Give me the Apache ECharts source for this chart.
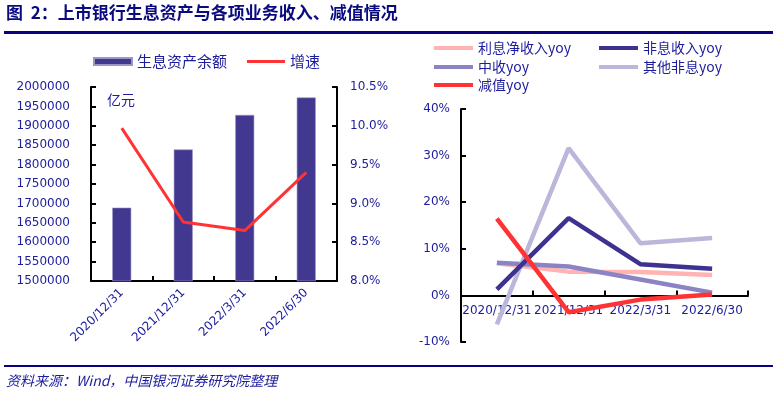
<!DOCTYPE html>
<html><head><meta charset="utf-8">
<script src="https://cdn.jsdelivr.net/npm/echarts@6/dist/echarts.min.js"></script>
<style>html,body{margin:0;padding:0;background:#fff}#c{width:773px;height:396px}</style>
</head><body><div id="c"></div>
<script>
const categories = ['2020/12/31', '2021/12/31', '2022/3/31', '2022/6/30'];
const assetBalance = [1689000, 1839000, 1928000, 1973000];
const assetGrowth = [9.97, 8.76, 8.65, 9.40];
const netInterestYoy = [6.9, 5.1, 5.0, 4.4];
const nonInterestYoy = [1.3, 16.6, 6.7, 5.7];
const feeYoy = [7.0, 6.2, 3.4, 0.6];
const otherNonInterestYoy = [-6.2, 31.6, 11.2, 12.3];
const impairmentYoy = [16.5, -3.6, -0.9, 0.2];
const leftTicks = { min: 1500000, max: 2000000, interval: 50000 };
const rightTicks = { min: 8.0, max: 10.5, interval: 0.5 };
const yoyTicks = { min: -10, max: 40, interval: 10 };

const navy = '#1c1c9c';
const txtFont = '"Noto Sans CJK SC", sans-serif';
const numFont = '"DejaVu Sans", sans-serif';
const axisLine = { show: true, lineStyle: { color: '#000', width: 2 } };
const axisTick = { show: true, inside: true, length: 5, lineStyle: { color: '#000', width: 2 } };

const chart = echarts.init(document.getElementById('c'), null, { renderer: 'canvas' });

function lg(name, left, top, w, h, fs) {
  return {
    data: [{ name: name, icon: 'rect' }], left: left, top: top,
    itemWidth: w, itemHeight: h, itemGap: 0, padding: 0,
    textStyle: { color: navy, fontSize: fs || 14, fontFamily: txtFont },
    selectedMode: false
  };
}

const grid2Height = 233;
const zeroOffset = -grid2Height * (0 - yoyTicks.min) / (yoyTicks.max - yoyTicks.min);

const option = {
  animation: false,
  backgroundColor: '#fff',
  legend: [
    lg('生息资产余额', 93, 54, 38, 7, 15),
    lg('增速', 247, 54, 38, 3, 15),
    lg('利息净收入yoy', 434, 41, 39, 4),
    lg('非息收入yoy', 599, 41, 39, 4),
    lg('中收yoy', 434, 60, 39, 4),
    lg('其他非息yoy', 599, 60, 39, 4),
    lg('减值yoy', 434, 78, 39, 4)
  ],
  grid: [
    { left: 91, top: 87, width: 246, height: 194 },
    { left: 461, top: 109, width: 287, height: grid2Height }
  ],
  xAxis: [
    {
      type: 'category', gridIndex: 0, data: categories,
      axisLine: axisLine, axisTick: axisTick,
      axisLabel: { rotate: 45, color: navy, fontSize: 12, fontFamily: numFont, margin: 10, interval: 0 }
    },
    {
      type: 'category', gridIndex: 1, data: categories, offset: zeroOffset,
      axisLine: Object.assign({ onZero: false }, axisLine), axisTick: axisTick,
      axisLabel: { color: navy, fontSize: 12, fontFamily: numFont, margin: 9, interval: 0, hideOverlap: false }
    }
  ],
  yAxis: [
    {
      type: 'value', gridIndex: 0, min: leftTicks.min, max: leftTicks.max, interval: leftTicks.interval,
      axisLine: axisLine, axisTick: axisTick, splitLine: { show: false },
      axisLabel: { color: navy, fontSize: 12, fontFamily: numFont, margin: 21, formatter: v => String(v) }
    },
    {
      type: 'value', gridIndex: 0, position: 'right', min: rightTicks.min, max: rightTicks.max, interval: rightTicks.interval,
      axisLine: axisLine, axisTick: axisTick, splitLine: { show: false },
      axisLabel: { color: navy, fontSize: 12, fontFamily: numFont, margin: 13, formatter: v => v.toFixed(1) + '%' }
    },
    {
      type: 'value', gridIndex: 1, min: yoyTicks.min, max: yoyTicks.max, interval: yoyTicks.interval,
      axisLine: axisLine, axisTick: axisTick, splitLine: { show: false },
      axisLabel: { color: navy, fontSize: 12, fontFamily: numFont, margin: 11, formatter: '{value}%' }
    }
  ],
  series: [
    { name: '生息资产余额', type: 'bar', xAxisIndex: 0, yAxisIndex: 0, data: assetBalance, barWidth: 19,
      itemStyle: { color: '#43388f', borderColor: '#9b95c8', borderWidth: 0.6 } },
    { name: '增速', type: 'line', xAxisIndex: 0, yAxisIndex: 1, data: assetGrowth, symbol: 'none',
      lineStyle: { color: '#ff3333', width: 3 }, itemStyle: { color: '#ff3333' } },
    { name: '利息净收入yoy', type: 'line', xAxisIndex: 1, yAxisIndex: 2, data: netInterestYoy, symbol: 'none',
      lineStyle: { color: '#ffb3b3', width: 4.5 }, itemStyle: { color: '#ffb3b3' } },
    { name: '中收yoy', type: 'line', xAxisIndex: 1, yAxisIndex: 2, data: feeYoy, symbol: 'none',
      lineStyle: { color: '#8a84c4', width: 4.5 }, itemStyle: { color: '#8a84c4' } },
    { name: '其他非息yoy', type: 'line', xAxisIndex: 1, yAxisIndex: 2, data: otherNonInterestYoy, symbol: 'none',
      lineStyle: { color: '#bbb6da', width: 4.5 }, itemStyle: { color: '#bbb6da' } },
    { name: '非息收入yoy', type: 'line', xAxisIndex: 1, yAxisIndex: 2, data: nonInterestYoy, symbol: 'none',
      lineStyle: { color: '#3d3290', width: 4.5 }, itemStyle: { color: '#3d3290' } },
    { name: '减值yoy', type: 'line', xAxisIndex: 1, yAxisIndex: 2, data: impairmentYoy, symbol: 'none',
      lineStyle: { color: '#ff3333', width: 4.5 }, itemStyle: { color: '#ff3333' } }
  ],
  graphic: [
    { type: 'text', left: 6, top: 4, style: { text: '图  2：上市银行生息资产与各项业务收入、减值情况', fill: '#0a0a80', font: 'bold 17px "Noto Sans CJK SC", sans-serif' } },
    { type: 'rect', shape: { x: 4, y: 31, width: 769, height: 3 }, style: { fill: '#0a0080' } },
    { type: 'rect', shape: { x: 4, y: 365, width: 769, height: 2 }, style: { fill: '#0a0080' } },
    { type: 'text', left: 6, top: 374, style: { text: '资料来源：Wind，中国银河证券研究院整理', fill: '#1c1c9c', font: 'italic 14px "Noto Sans CJK SC", sans-serif' } },
    { type: 'text', left: 107, top: 93, style: { text: '亿元', fill: '#1c1c9c', font: '14px "Noto Sans CJK SC", sans-serif' } }
  ]
};
chart.setOption(option);
</script></body></html>
